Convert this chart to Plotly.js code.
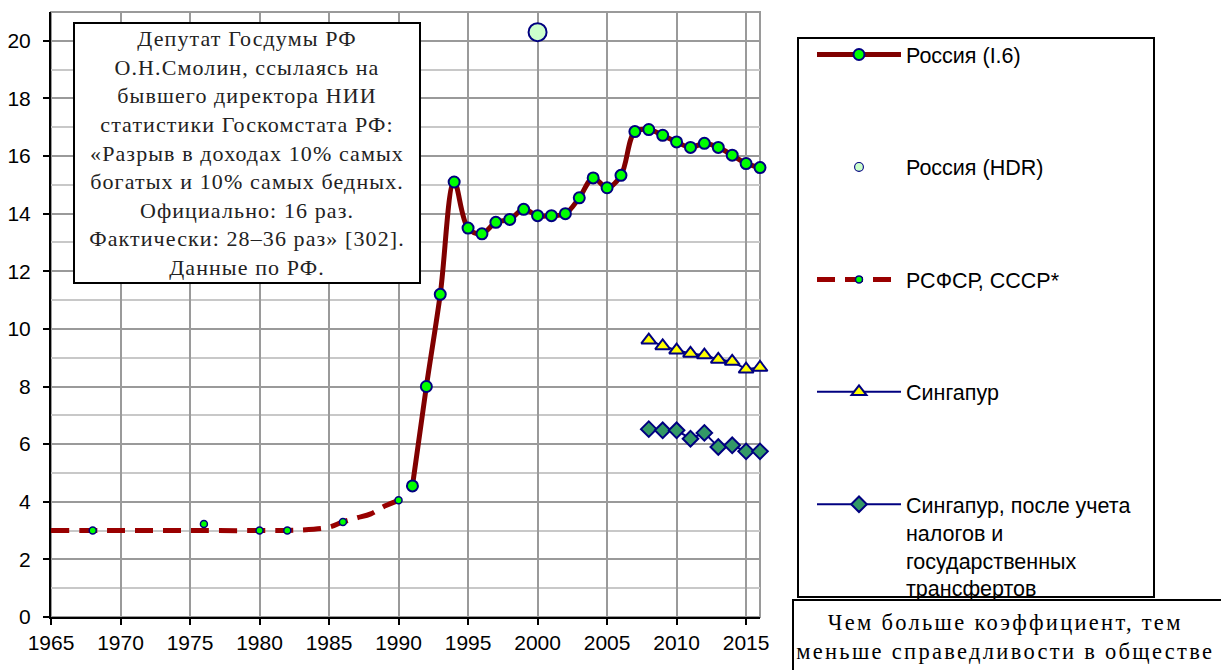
<!DOCTYPE html>
<html>
<head>
<meta charset="utf-8">
<script src="https://cdn.plot.ly/plotly-3.0.1.min.js"></script>
<style>
html,body{margin:0;padding:0;background:#fff;}
.legend .traces{opacity:1 !important;}
.legend .groups:nth-of-type(2) .legendpoints{transform-box:fill-box;transform-origin:center;transform:scale(0.55);}
.annotation[data-index="0"] text.annotation-text{letter-spacing:1.1px;}
.annotation[data-index="1"] text.annotation-text{letter-spacing:2.3px;}
</style>
</head>
<body>
<div id="chart" style="width:1221px;height:670px;"></div>
<script>
// ---- Data ----
const russiaYears = [1991,1992,1993,1994,1995,1996,1997,1998,1999,2000,2001,2002,2003,2004,2005,2006,2007,2008,2009,2010,2011,2012,2013,2014,2015,2016];
const russiaValues = [4.55,8.0,11.2,15.1,13.5,13.3,13.7,13.8,14.15,13.93,13.93,14.0,14.55,15.24,14.9,15.33,16.85,16.92,16.72,16.49,16.3,16.44,16.3,16.03,15.74,15.6];

const hdrYears = [2000];
const hdrValues = [20.3];

const rsfsrYears = [1968,1976,1980,1982,1986,1990];
const rsfsrValues = [3.0,3.23,3.0,3.0,3.3,4.05];
const rsfsrTrendYears = [1965,1970,1975,1980,1983,1985,1986,1987,1988,1989,1990];
const rsfsrTrendValues = [3.0,3.0,3.0,3.0,3.02,3.12,3.3,3.44,3.58,3.85,4.05];

const singYears = [2008,2009,2010,2011,2012,2013,2014,2015,2016];
const singValues = [9.61,9.41,9.26,9.15,9.09,8.94,8.87,8.6,8.66];
const singAfterValues = [6.52,6.48,6.48,6.19,6.39,5.9,5.96,5.75,5.75];

const seriesNames = ['Россия (I.6)','Россия (HDR)','РСФСР, СССР*','Сингапур','Сингапур, после учета<br>налогов и<br>государственных<br>трансфертов'];

const noteText = ['Депутат Госдумы РФ','О.Н.Смолин, ссылаясь на','бывшего директора НИИ','статистики Госкомстата РФ:','«Разрыв в доходах 10% самых','богатых и 10% самых бедных.','Официально: 16 раз.','Фактически: 28–36 раз» [302].','Данные по РФ.'];
const bottomText = ['Чем больше коэффициент, тем','меньше справедливости в обществе'];

const yTicks = [0,2,4,6,8,10,12,14,16,18,20];
const xTicks = [1965,1970,1975,1980,1985,1990,1995,2000,2005,2010,2015];

// ---- Layout helpers ----
const W = 1221, H = 670;
const M = {l:51, r:461, t:12, b:53};
const PW = W - M.l - M.r, PH = H - M.t - M.b;
const px = x => (x - M.l) / PW;
const py = y => (H - M.b - y) / PH;

const navy = '#000080';

const traces = [
  {x: rsfsrTrendYears, y: rsfsrTrendValues, mode:'lines', type:'scatter', showlegend:false,
   line:{color:'#990000', width:5, dash:'18px,10px', shape:'spline'}, cliponaxis:false, hoverinfo:'skip'},
  {x: rsfsrYears, y: rsfsrValues, mode:'markers', type:'scatter', showlegend:false,
   marker:{color:'#00FF00', size:7, line:{color:navy, width:1.5}}, cliponaxis:false},
  {x: russiaYears, y: russiaValues, name: seriesNames[0], legendgroup:'g1', mode:'lines+markers', type:'scatter',
   line:{color:'#800000', width:5, shape:'spline'},
   marker:{color:'#00FF00', size:11, line:{color:navy, width:2}}, cliponaxis:false},
  {x: hdrYears, y: hdrValues, name: seriesNames[1], legendgroup:'g2', mode:'markers', type:'scatter',
   marker:{color:'#CCFFCC', size:18, line:{color:navy, width:2}}, cliponaxis:false},
  {x: rsfsrYears, y: rsfsrValues, name: seriesNames[2], legendgroup:'g3', mode:'lines+markers', type:'scatter',
   visible:'legendonly',
   line:{color:'#990000', width:5, dash:'18px,10px'},
   marker:{color:'#00FF00', size:7, line:{color:navy, width:1.5}}},
  {x: singYears, y: singValues, name: seriesNames[3], legendgroup:'g4', mode:'lines+markers', type:'scatter',
   line:{color:navy, width:2},
   marker:{symbol:'triangle-up', color:'#FFFF00', size:13, line:{color:navy, width:2}}, cliponaxis:false},
  {x: singYears, y: singAfterValues, name: seriesNames[4], legendgroup:'g5', mode:'lines+markers', type:'scatter',
   line:{color:navy, width:2},
   marker:{symbol:'diamond', color:'#339966', size:12, line:{color:navy, width:2}}, cliponaxis:false}
];

const layout = {
  width: W, height: H,
  margin: M,
  paper_bgcolor:'#fff', plot_bgcolor:'#fff',
  font:{family:'Liberation Sans, Arial, sans-serif', size:21, color:'#000'},
  showlegend:true,
  legend:{
    x: px(812), y: py(34), xanchor:'left', yanchor:'top',
    bgcolor:'rgba(0,0,0,0)', borderwidth:0,
    font:{family:'Liberation Sans, Arial, sans-serif', size:21.5, color:'#000'},
    traceorder:'grouped', tracegroupgap:81.5, itemwidth:84, valign:'top',
    itemclick:false, itemdoubleclick:false
  },
  xaxis:{
    range:[1965,2016], tickmode:'array', tickvals:xTicks, ticktext:xTicks.map(String),
    showgrid:true, gridcolor:'#9a9a9a', gridwidth:2,
    showline:true, linecolor:'#000', linewidth:2,
    ticks:'outside', ticklen:6, tickwidth:2, tickcolor:'#000',
    zeroline:false, tickfont:{size:21}, ticklabelstandoff:0
  },
  yaxis:{
    range:[0,21], tickmode:'array', tickvals:yTicks, ticktext:yTicks.map(String),
    showgrid:true, gridcolor:'#9a9a9a', gridwidth:2,
    minor:{dtick:1, tick0:0, showgrid:true, gridcolor:'#c8c8c8', gridwidth:2},
    showline:true, linecolor:'#000', linewidth:2,
    ticks:'outside', ticklen:6, tickwidth:2, tickcolor:'#000',
    zeroline:false, tickfont:{size:21}, ticklabelstandoff:8
  },
  shapes:[
    {type:'rect', xref:'paper', yref:'paper', x0:0, x1:1, y0:0, y1:1, line:{color:'#9a9a9a', width:2}, layer:'below'},
    {type:'rect', xref:'paper', yref:'paper', x0:px(798), x1:px(1154), y0:py(597), y1:py(38), line:{color:'#000', width:2}},
    {type:'rect', xref:'paper', yref:'paper', x0:px(793), x1:px(1235), y0:py(690), y1:py(600), line:{color:'#000', width:2}}
  ],
  annotations:[
    {xref:'paper', yref:'paper', x:px(73), y:py(22), xanchor:'left', yanchor:'top',
     text: noteText.join('<br>'), showarrow:false, align:'center',
     width:342, height:256, valign:'middle',
     bgcolor:'#fff', bordercolor:'#000', borderwidth:2, borderpad:1,
     font:{family:'Liberation Serif, Times New Roman, serif', size:22, color:'#222'}},
    {xref:'paper', yref:'paper', x:px(1006), y:py(637), xanchor:'center', yanchor:'middle',
     text: bottomText.join('<br>'), showarrow:false, align:'center',
     font:{family:'Liberation Serif, Times New Roman, serif', size:22.5, color:'#000'}}
  ]
};

Plotly.newPlot('chart', traces, layout, {staticPlot:true, displayModeBar:false});
</script>
</body>
</html>
